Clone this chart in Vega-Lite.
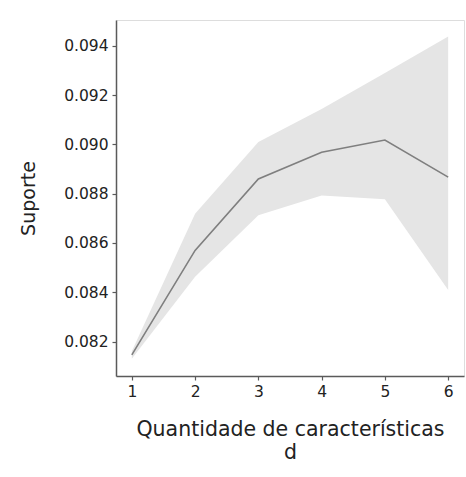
{
  "$schema": "https://vega.github.io/schema/vega-lite/v6.json",
  "autosize": {"type": "none"},
  "width": 348,
  "height": 356,
  "padding": {"left": 116, "top": 20, "right": 2, "bottom": 101},
  "background": "white",
  "config": {
    "font": "DejaVu Sans",
    "view": {"stroke": "#dddddd", "strokeWidth": 1},
    "axis": {
      "grid": false,
      "domainColor": "#5a5a5a",
      "domainWidth": 1.5,
      "tickColor": "#5a5a5a",
      "tickWidth": 1.2,
      "tickSize": 4,
      "labelFont": "DejaVu Sans",
      "labelFontSize": 15.5,
      "labelColor": "#222222",
      "labelPadding": 4,
      "titleFont": "DejaVu Sans",
      "titleFontSize": 19,
      "titleFontWeight": "normal",
      "titleColor": "#222222"
    }
  },
  "data": {
    "values": [
      {"d": 1, "suporte": 0.08146, "lo": 0.0813, "hi": 0.0816},
      {"d": 2, "suporte": 0.0857, "lo": 0.08463, "hi": 0.08719},
      {"d": 3, "suporte": 0.0886, "lo": 0.08712, "hi": 0.0901},
      {"d": 4, "suporte": 0.08968, "lo": 0.08793, "hi": 0.09144},
      {"d": 5, "suporte": 0.09018, "lo": 0.08777, "hi": 0.0929},
      {"d": 6, "suporte": 0.08867, "lo": 0.08409, "hi": 0.09438}
    ]
  },
  "encoding": {
    "x": {
      "field": "d",
      "type": "quantitative",
      "scale": {"domain": [0.75, 6.25], "nice": false, "zero": false},
      "axis": {
        "values": [1, 2, 3, 4, 5, 6],
        "format": "d",
        "title": ["Quantidade de características", "d"],
        "titleFontSize": 20.5,
        "titlePadding": 20,
        "titleLineHeight": 23
      }
    }
  },
  "layer": [
    {
      "mark": {"type": "area", "color": "#e5e5e5", "opacity": 1},
      "encoding": {
        "y": {
          "field": "lo",
          "type": "quantitative",
          "scale": {"domain": [0.0806, 0.09505], "nice": false, "zero": false},
          "axis": {
            "values": [0.082, 0.084, 0.086, 0.088, 0.09, 0.092, 0.094],
            "format": ".3f",
            "title": "Suporte",
            "titlePadding": 25
          }
        },
        "y2": {"field": "hi"}
      }
    },
    {
      "mark": {"type": "line", "color": "#7f7f7f", "strokeWidth": 1.6},
      "encoding": {
        "y": {"field": "suporte", "type": "quantitative"}
      }
    }
  ]
}
